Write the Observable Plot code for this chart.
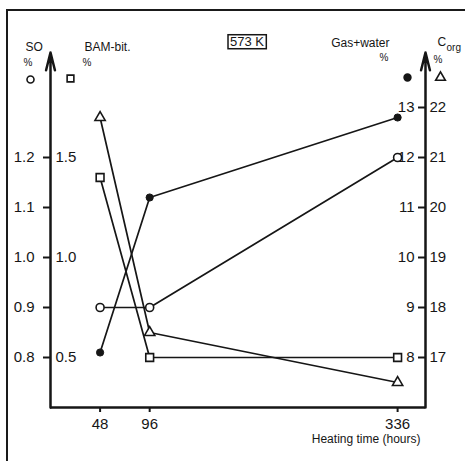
<!DOCTYPE html>
<html><head><meta charset="utf-8">
<script src="https://cdn.jsdelivr.net/npm/d3@7"></script>
<script src="https://cdn.jsdelivr.net/npm/@observablehq/plot@0.6"></script>
<style>
body{margin:0;background:#fff;}
#wrap{position:relative;width:465px;height:461px;overflow:hidden;background:#fff;}
#chart{position:absolute;left:0;top:0;}
#border{position:absolute;left:6px;top:9px;width:480px;height:480px;border-left:2px solid #1a1a1a;border-top:2px solid #1a1a1a;}
</style></head><body>
<div id="wrap"><div id="chart"></div><div id="border"></div></div>
<script>
// Heating time (hours)
const hours = [48, 96, 336];
// Series values, each in its own axis units
const soValues = [0.9, 0.9, 1.2];        // SO %, open circles
const bamValues = [1.4, 0.5, 0.5];       // BAM-bit. %, open squares
const gasValues = [8.1, 11.2, 12.8];     // Gas+water %, filled circles
const corgValues = [21.8, 17.5, 16.5];   // C_org %, open triangles
// Tick labels
const xTicks = [48, 96, 336];
const soTicks = [0.8, 0.9, 1.0, 1.1, 1.2];
const bamTicks = [0.5, 1.0, 1.5];
const gasTicks = [8, 9, 10, 11, 12, 13];
const corgTicks = [17, 18, 19, 20, 21, 22];

// axis calibrations: map each axis' units onto the shared (SO) vertical scale
const fromSO = v => v;
const fromBam = b => 0.8 + (b - 0.5) * 0.4;
const fromGas = g => 0.8 + (g - 8) * 0.1;
const fromCorg = c => 0.8 + (c - 17) * 0.1;
const toBam = v => ((v - 0.8) / 0.4 + 0.5).toFixed(1);
const toGas = v => String(Math.round((v - 0.8) / 0.1 + 8));
const toCorg = v => String(Math.round((v - 0.8) / 0.1 + 17));

const seriesDefs = [
  {name: "SO", values: soValues, conv: fromSO},
  {name: "BAM", values: bamValues, conv: fromBam},
  {name: "Gas", values: gasValues, conv: fromGas},
  {name: "Corg", values: corgValues, conv: fromCorg}
];
const rows = seriesDefs.flatMap(s => hours.map((h, i) => ({series: s.name, hour: h, v: s.conv(s.values[i])})));
const pick = n => rows.filter(r => r.series === n);

const xDomain = [0, 363];
const yDomain = [0.7, 1.41];
const ink = "#161616";
const numFont = "'Liberation Sans Narrow', 'Liberation Sans', sans-serif";
const txtFont = "'Liberation Sans', sans-serif";

const T = (str, anchor, dx, dy, size, extra = {}) =>
  Plot.text([str], {x: null, y: null, text: d => d, frameAnchor: anchor, dx, dy, fontSize: size, fontFamily: txtFont, fill: ink, ...extra});
const D = (anchor, dx, dy, symbol, r, fill) =>
  Plot.dot([0], {x: null, y: null, frameAnchor: anchor, dx, dy, symbol, r, fill, stroke: ink, strokeWidth: 1.6});

const chart = Plot.plot({
  width: 465,
  height: 461,
  marginLeft: 50,
  marginRight: 40,
  marginTop: 52,
  marginBottom: 54,
  style: {background: "transparent", color: ink},
  x: {domain: xDomain, axis: null},
  y: {domain: yDomain, axis: null},
  marks: [
    // axis lines
    Plot.ruleY([yDomain[0]], {stroke: ink, strokeWidth: 2.5}),
    Plot.arrow(xDomain, {x1: d => d, x2: d => d, y1: yDomain[0], y2: yDomain[1], stroke: ink, strokeWidth: 2.5, headLength: 11, headAngle: 28}),
    // left SO axis
    Plot.axisY(soTicks, {anchor: "left", tickSize: 7, tickPadding: 9, tickFormat: d => d.toFixed(1), fontSize: 15, fontFamily: numFont, strokeWidth: 2, label: null}),
    // BAM-bit labels (inside of left axis)
    Plot.axisY(bamTicks.map(fromBam), {anchor: "right", frameAnchor: "left", tickSize: 0, tickPadding: 5, tickFormat: toBam, fontSize: 15, fontFamily: numFont, label: null}),
    // Gas+water axis (inside of right axis)
    Plot.axisY(gasTicks.map(fromGas), {anchor: "left", frameAnchor: "right", tickSize: 7, tickPadding: 4, tickFormat: toGas, fontSize: 15, fontFamily: numFont, strokeWidth: 2, label: null}),
    // Corg labels (outside of right axis)
    Plot.axisY(corgTicks.map(fromCorg), {anchor: "right", tickSize: 0, tickPadding: 4, tickFormat: toCorg, fontSize: 15, fontFamily: numFont, label: null}),
    // x axis
    Plot.axisX(xTicks, {tickSize: 5, tickPadding: 6, fontSize: 15, fontFamily: numFont, strokeWidth: 2, label: null}),
    T("Heating time (hours)", "bottom-right", -5, 35, 12, {textAnchor: "end"}),
    // series lines
    Plot.line(rows, {x: "hour", y: "v", z: "series", stroke: ink, strokeWidth: 1.7}),
    Plot.dot(pick("SO"), {x: "hour", y: "v", symbol: "circle", r: 4, fill: "white", stroke: ink, strokeWidth: 1.6}),
    Plot.dot(pick("BAM"), {x: "hour", y: "v", symbol: "square", r: 4.4, fill: "white", stroke: ink, strokeWidth: 1.6}),
    Plot.dot(pick("Gas"), {x: "hour", y: "v", symbol: "circle", r: 3.6, fill: ink, stroke: ink, strokeWidth: 1}),
    Plot.dot(pick("Corg"), {x: "hour", y: "v", symbol: "triangle", r: 3.8, fill: "white", stroke: ink, strokeWidth: 1.6}),
    // legends / axis titles
    T("SO", "top-left", -25, -10, 12),
    T("%", "top-left", -27, 6, 10),
    D("top-left", -20, 27, "circle", 3.5, "white"),
    T("BAM-bit.", "top-left", 34, -10, 12),
    T("%", "top-left", 32, 6, 10),
    D("top-left", 20, 26, "square", 3.8, "white"),
    T("Gas+water", "top-right", -36, -14, 12),
    T("%", "top-right", -37, 1, 10),
    D("top-right", -18, 25, "circle", 3.4, ink),
    T("C", "top-right", 12, -15, 12, {textAnchor: "start"}),
    T("org", "top-right", 21, -9, 10, {textAnchor: "start"}),
    T("%", "top-right", 17, 3, 10),
    D("top-right", 15, 25, "triangle", 3.6, "white"),
    T("573 K", "top", 9, -16, 13, {className: "temp-label"})
  ]
});
document.getElementById("chart").appendChild(chart);

// box around the temperature label
const lbl = chart.querySelector(".temp-label text") || [...chart.querySelectorAll("text")].find(t => t.textContent === "573 K");
if (lbl) {
  const b = lbl.getBBox();
  d3.select(lbl.parentNode).insert("rect", "text")
    .attr("x", b.x - 2).attr("y", b.y + 1).attr("width", b.width + 4).attr("height", b.height - 1)
    .attr("fill", "none").attr("stroke", ink).attr("stroke-width", 1.5)
    .attr("transform", lbl.getAttribute("transform"));
}
</script>
</body></html>
